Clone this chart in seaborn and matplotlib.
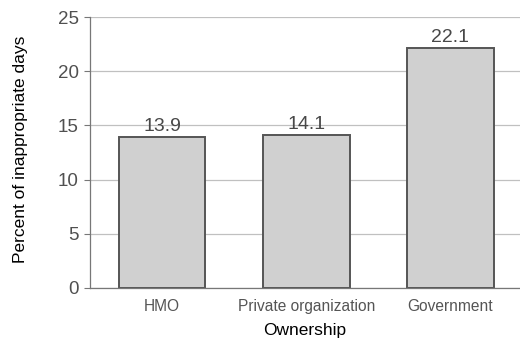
import matplotlib
matplotlib.use("Agg")
import matplotlib.pyplot as plt
import seaborn as sns
import pandas as pd

categories = ["HMO", "Private organization", "Government"]
values = [13.9, 14.1, 22.1]
yticks = [0, 5, 10, 15, 20, 25]

sns.set_theme(style="white")
plt.rcParams["font.family"] = ["Liberation Sans", "DejaVu Sans"]

df = pd.DataFrame({"Ownership": categories, "Percent": values})

fig = plt.figure(figsize=(5.2, 3.4), dpi=100)
ax = fig.add_axes([0.173, 0.153, 0.832, 0.797])

ax.yaxis.grid(True, color="#c0c0c0", linewidth=0.9)
ax.set_axisbelow(True)

sns.barplot(data=df, x="Ownership", y="Percent", ax=ax, color="#d0d0d0",
            edgecolor="#555555", linewidth=1.4, width=0.6, saturation=1)

for i, v in enumerate(values):
    ax.text(i, v + 0.2, f"{v:.1f}", ha="center", va="bottom",
            fontsize=14, color="#484848")

ax.set_xlim(-0.5, 2.5)
ax.set_ylim(0, 25)
ax.set_yticks(yticks)
ax.tick_params(axis="y", which="both", left=True, length=4, width=0.8,
               color="#777777", labelsize=13.5, labelcolor="#505050", pad=4)
ax.tick_params(axis="x", bottom=False, labelsize=11.2, labelcolor="#555555", pad=2)

for side in ["top", "right"]:
    ax.spines[side].set_visible(False)
for side in ["left", "bottom"]:
    ax.spines[side].set_color("#777777")
    ax.spines[side].set_linewidth(0.9)

ax.set_xlabel("Ownership", fontsize=12.5, color="black")
ax.xaxis.set_label_coords(0.497, -0.128)
ax.set_ylabel("Percent of inappropriate days", fontsize=12.5, color="black")
ax.yaxis.set_label_coords(-0.143, 0.51)

fig.savefig("out.png", dpi=100)
